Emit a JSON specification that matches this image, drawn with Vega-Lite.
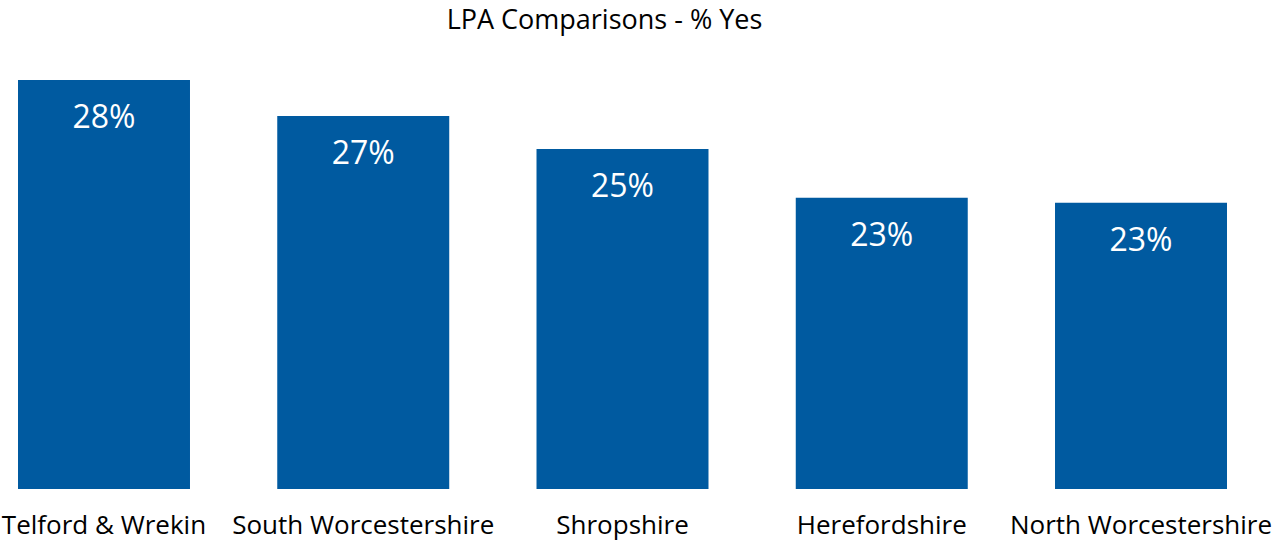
{
  "$schema": "https://vega.github.io/schema/vega-lite/v6.json",
  "width": 1209,
  "height": 460,
  "autosize": {"type": "none"},
  "padding": {"left": 18, "top": 29, "right": 46, "bottom": 52},
  "background": "white",
  "title": {
    "text": "LPA Comparisons - % Yes",
    "font": "Open Sans",
    "fontSize": 27,
    "fontWeight": "normal",
    "color": "#000000",
    "anchor": "middle",
    "frame": "group",
    "dx": -18,
    "offset": -27,
    "baseline": "alphabetic"
  },
  "data": {
    "values": [
      {"lpa": "Telford & Wrekin", "yes": 0.280},
      {"lpa": "South Worcestershire", "yes": 0.266},
      {"lpa": "Shropshire", "yes": 0.253},
      {"lpa": "Herefordshire", "yes": 0.234},
      {"lpa": "North Worcestershire", "yes": 0.232}
    ]
  },
  "encoding": {
    "x": {
      "field": "lpa",
      "type": "nominal",
      "sort": null,
      "scale": {"paddingInner": 0.3366, "paddingOuter": 0},
      "axis": {
        "title": null,
        "labelAngle": 0,
        "labelFont": "Open Sans",
        "labelFontSize": 26,
        "labelColor": "#000000",
        "labelPadding": 23,
        "labelLimit": 0,
        "labelOverlap": false,
        "labelBound": false,
        "domain": false,
        "ticks": false
      }
    },
    "y": {
      "field": "yes",
      "type": "quantitative",
      "scale": {"domain": [0.12, 0.30], "zero": false, "nice": false},
      "axis": null
    }
  },
  "layer": [
    {"mark": {"type": "bar", "color": "#005AA0", "clip": true}},
    {
      "mark": {
        "type": "text",
        "color": "white",
        "font": "Open Sans",
        "fontSize": 32,
        "baseline": "alphabetic",
        "dy": 48
      },
      "encoding": {
        "text": {"field": "yes", "type": "quantitative", "format": ".0%"}
      }
    }
  ],
  "config": {"view": {"stroke": null}}
}
